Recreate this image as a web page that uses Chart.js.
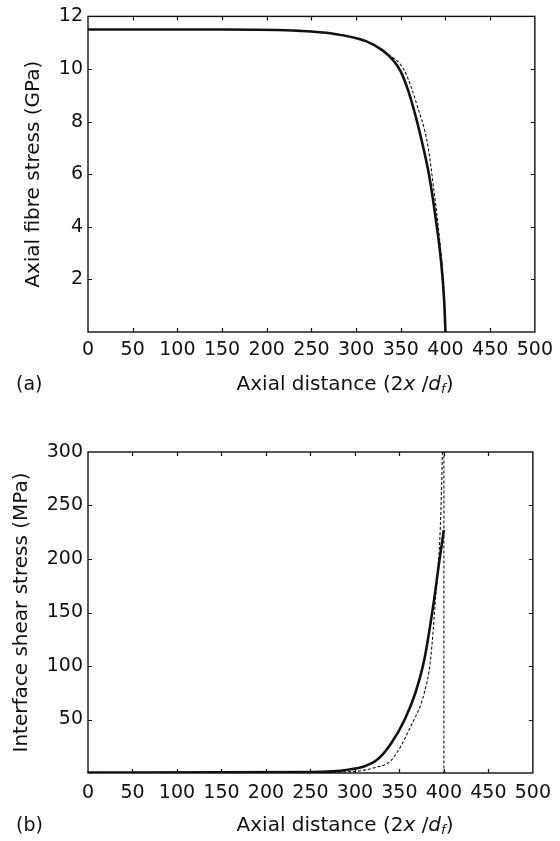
<!DOCTYPE html>
<html>
<head>
<meta charset="utf-8">
<script src="https://cdn.jsdelivr.net/npm/chart.js@4.4.1/dist/chart.umd.min.js"></script>
<style>
    body { margin: 0; background: #fff; }
    canvas { display: block; }
</style>
</head>
<body>
<canvas id="chart-a" width="560" height="420"></canvas>
<canvas id="chart-b" width="560" height="421"></canvas>
<script>
// tick values
const xTicks = [0, 50, 100, 150, 200, 250, 300, 350, 400, 450, 500];
const fibreTicks = [0, 2, 4, 6, 8, 10, 12];
const shearTicks = [0, 50, 100, 150, 200, 250, 300];

// (a) axial fibre stress, GPa
const fibreSolidX = [0, 150, 237, 273, 311, 330, 341, 350, 359, 370.5, 381.7, 389, 395, 398.5, 400];
const fibreSolidY = [11.5, 11.5, 11.45, 11.35, 11.06, 10.7, 10.35, 9.9, 9.1, 7.68, 5.95, 4.32, 2.7, 1.2, 0];
const fibreDashX = [0, 150, 237, 273, 311, 334, 354, 368, 380, 387, 393, 397.5, 400];
const fibreDashY = [11.5, 11.5, 11.45, 11.35, 11.06, 10.6, 9.94, 8.64, 7.14, 5.4, 3.66, 1.9, 0];

// (b) interface shear stress, MPa
const shearSolidX = [0, 250, 275, 292, 310, 326, 341, 356, 368, 378, 389, 395, 400];
const shearSolidY = [0.5, 0.8, 1.5, 3, 6, 13, 28, 50, 75, 106, 162, 199, 227];
const shearDashX = [0, 250, 300, 322, 341, 363, 378, 385, 391, 396, 399];
const shearDashY = [0.3, 0.5, 1.5, 5, 12, 44, 75, 106, 168, 230, 320];
const shearDropX = [400, 400];
const shearDropY = [320, 0];

const FONT = '"DejaVu Sans", Verdana, sans-serif';
const INK = "#111";

Chart.defaults.font.family = FONT;
Chart.defaults.color = INK;

function points(xs, ys) {
    return xs.map((x, i) => ({ x: x, y: ys[i] }));
}

// box round the plot, inward ticks on every side, x title and panel letter
const boxTicks = {
    id: "boxTicks",
    afterDatasetsDraw(chart, args, opts) {
        const { ctx, chartArea: a, scales: { x, y } } = chart;
        ctx.save();
        ctx.strokeStyle = INK;
        ctx.lineWidth = 1.4;
        ctx.strokeRect(a.left, a.top, a.right - a.left, a.bottom - a.top);
        ctx.lineWidth = 1.2;
        ctx.beginPath();
        x.ticks.forEach(t => {
            const px = Math.round(x.getPixelForValue(t.value)) + 0.5;
            if (px <= a.left + 2 || px >= a.right - 2) return;
            ctx.moveTo(px, a.bottom); ctx.lineTo(px, a.bottom - 4);
            ctx.moveTo(px, a.top); ctx.lineTo(px, a.top + 4);
        });
        y.ticks.forEach(t => {
            const py = Math.round(y.getPixelForValue(t.value)) + 0.5;
            if (py <= a.top + 2 || py >= a.bottom - 2) return;
            ctx.moveTo(a.left, py); ctx.lineTo(a.left + 4, py);
            ctx.moveTo(a.right, py); ctx.lineTo(a.right - 4, py);
        });
        ctx.stroke();

        // "Axial distance (2x /df)" with italic x, d and subscript f
        const parts = [
            ["Axial distance (2", "normal", 0],
            ["x", "italic", 0],
            [" /", "normal", 0],
            ["d", "italic", 0],
            ["f", "sub", 5],
            [")", "normal", 0]
        ];
        const fontFor = p => p[1] === "italic" ? "italic 20px " + FONT
            : p[1] === "sub" ? "italic 13px " + FONT : "20px " + FONT;
        let total = 0;
        parts.forEach(p => { ctx.font = fontFor(p); total += ctx.measureText(p[0]).width; });
        let cx = opts.titleX - total / 2;
        ctx.fillStyle = INK;
        ctx.textBaseline = "middle";
        ctx.textAlign = "left";
        parts.forEach(p => {
            ctx.font = fontFor(p);
            ctx.fillText(p[0], cx, opts.titleY + p[2]);
            cx += ctx.measureText(p[0]).width;
        });

        ctx.font = "19px " + FONT;
        ctx.fillText(opts.panel, opts.panelX, opts.titleY);
        ctx.restore();
    }
};

function makeChart(id, cfg) {
    const solid = {
        data: points(cfg.solidX, cfg.solidY),
        borderColor: INK,
        borderWidth: 2.6,
        pointRadius: 0,
        cubicInterpolationMode: "monotone",
        clip: 0
    };
    const dashed = cfg.dashes.map(d => ({
        data: points(d[0], d[1]),
        borderColor: INK,
        borderWidth: 1.1,
        borderDash: [3, 2],
        pointRadius: 0,
        cubicInterpolationMode: d[2] ? "monotone" : "default",
        tension: 0,
        clip: 0
    }));
    return new Chart(document.getElementById(id), {
        type: "line",
        data: { datasets: dashed.concat([solid]) },
        options: {
            responsive: false,
            animation: false,
            layout: { padding: { top: cfg.top, right: 24, left: 0, bottom: 0 } },
            plugins: {
                legend: { display: false },
                tooltip: { enabled: false },
                boxTicks: { titleX: 345, titleY: cfg.titleY, panel: cfg.panel, panelX: 16 }
            },
            scales: {
                x: {
                    type: "linear",
                    min: 0,
                    max: 500,
                    grid: { display: false, drawTicks: false },
                    border: { display: false },
                    afterBuildTicks: s => { s.ticks = xTicks.map(v => ({ value: v })); },
                    afterFit: s => { s.height = cfg.xHeight; },
                    ticks: {
                        padding: cfg.xPad,
                        autoSkip: false,
                        maxRotation: 0,
                        font: { size: 19 }
                    }
                },
                y: {
                    type: "linear",
                    min: 0,
                    max: cfg.yMax,
                    grid: { display: false, drawTicks: false },
                    border: { display: false },
                    afterBuildTicks: s => { s.ticks = cfg.yTicks.map(v => ({ value: v })); },
                    afterFit: s => { s.width = 88; },
                    ticks: {
                        padding: 5,
                        font: { size: 19 },
                        callback: v => v === 0 ? "" : v
                    },
                    title: {
                        display: true,
                        text: cfg.yTitle,
                        font: { size: 20 },
                        padding: { top: cfg.yTitlePad, bottom: 0 }
                    }
                }
            }
        },
        plugins: [boxTicks]
    });
}

makeChart("chart-a", {
    solidX: fibreSolidX, solidY: fibreSolidY,
    dashes: [[fibreDashX, fibreDashY, true]],
    yMax: 12, yTicks: fibreTicks,
    yTitle: "Axial fibre stress (GPa)", yTitlePad: 22,
    top: 12, xHeight: 88, xPad: 7,
    titleY: 385, panel: "(a)"
});

makeChart("chart-b", {
    solidX: shearSolidX, solidY: shearSolidY,
    dashes: [[shearDashX, shearDashY, true], [shearDropX, shearDropY, false]],
    yMax: 300, yTicks: shearTicks,
    yTitle: "Interface shear stress (MPa)", yTitlePad: 10,
    top: 32, xHeight: 68, xPad: 9,
    titleY: 406, panel: "(b)"
});
</script>
</body>
</html>
